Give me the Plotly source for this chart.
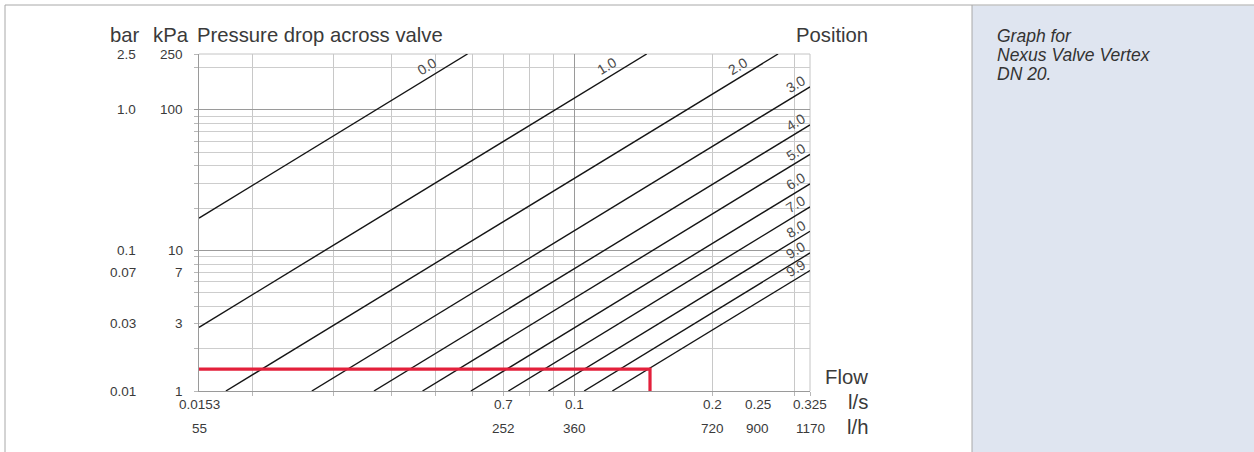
import math
import plotly.graph_objects as go

# ---------------- data ----------------
positions = ["0.0", "1.0", "2.0", "3.0", "4.0", "5.0", "6.0", "7.0", "8.0", "9.0", "9.9"]
flow_start = [0.0153, 0.0153, 0.0175, 0.0269, 0.0367, 0.0468, 0.0596, 0.0719, 0.0878, 0.1050, 0.1209]  # l/s
dp_start = [17.0, 2.84, 1.0, 1.0, 1.0, 1.0, 1.0, 1.0, 1.0, 1.0, 1.0]                                      # kPa
flow_end = [0.0586, 0.1436, 0.2770, 0.325, 0.325, 0.325, 0.325, 0.325, 0.325, 0.325, 0.325]               # l/s
dp_end = [250.0, 250.0, 250.0, 146.0, 78.3, 48.3, 29.8, 20.4, 13.7, 9.6, 7.2]                              # kPa

red_flow = [0.0153, 0.146, 0.146]
red_dp = [1.43, 1.43, 1.0]

ls_ticks = [0.0153, 0.07, 0.1, 0.2, 0.25, 0.325]
ls_text = ["0.0153", "0.7", "0.1", "0.2", "0.25", "0.325"]
lh_text = ["55", "252", "360", "720", "900", "1170"]

kpa_ticks = [250, 100, 10, 7, 3, 1]
kpa_text = ["250", "100", "10", "7", "3", "1"]
bar_text = ["2.5", "1.0", "0.1", "0.07", "0.03", "0.01"]

y_major = [10, 100]
y_minor = [1, 2, 3, 4, 5, 6, 7, 8, 9, 20, 30, 40, 50, 60, 70, 80, 90, 200, 250]
x_major = [0.1]
x_minor = [0.02, 0.03, 0.04, 0.05, 0.06, 0.07, 0.08, 0.09, 0.2, 0.3, 0.325]

panel_lines = ["Graph for", "Nexus Valve Vertex", "DN 20."]

# ---------------- layout geometry ----------------
W, H = 1254, 452
PL, PR, PT, PB = 199, 810, 54, 391  # plot area in px


def px(xp):
    return (xp - PL) / (PR - PL)


def py(yp):
    return (PB - yp) / (PB - PT)


FONT = "Liberation Sans, Arial, sans-serif"
TXT = "#3a3a3a"

fig = go.Figure()

for i, name in enumerate(positions):
    fig.add_trace(go.Scatter(
        x=[flow_start[i], flow_end[i]], y=[dp_start[i], dp_end[i]],
        mode="lines", line=dict(color="#151515", width=1.4),
        name=name, showlegend=False, hoverinfo="skip"))

fig.add_trace(go.Scatter(
    x=red_flow, y=red_dp, mode="lines",
    line=dict(color="#e3203b", width=3.2), showlegend=False, hoverinfo="skip"))

ann = []
# position labels along lines
for i, name in enumerate(positions):
    top = dp_end[i] >= 250
    ann.append(dict(
        x=math.log10(flow_end[i]), y=math.log10(dp_end[i]), xref="x", yref="y",
        text=name, showarrow=False, textangle=-31.4,
        xanchor="center", yanchor="middle",
        xshift=-40 if top else -14, yshift=-12 if top else 2.5,
        font=dict(family=FONT, size=14, color="#4a4a4a")))

# y tick labels (bar and kPa columns)
for v, tb, tk in zip(kpa_ticks, bar_text, kpa_text):
    ann.append(dict(x=px(138), y=math.log10(v), xref="paper", yref="y", text=tb,
                    showarrow=False, xanchor="right", yanchor="middle",
                    font=dict(family=FONT, size=13.5, color=TXT)))
    ann.append(dict(x=px(185), y=math.log10(v), xref="paper", yref="y", text=tk,
                    showarrow=False, xanchor="right", yanchor="middle",
                    font=dict(family=FONT, size=13.5, color=TXT)))

# x tick labels (l/s and l/h rows)
for v, ts, th in zip(ls_ticks, ls_text, lh_text):
    ann.append(dict(x=math.log10(v), y=py(404), xref="x", yref="paper", text=ts,
                    showarrow=False, xanchor="center", yanchor="middle",
                    font=dict(family=FONT, size=13.5, color=TXT)))
    ann.append(dict(x=math.log10(v), y=py(429), xref="x", yref="paper", text=th,
                    showarrow=False, xanchor="center", yanchor="middle",
                    font=dict(family=FONT, size=13.5, color=TXT)))


# headers
def label(text, xp, yp, anchor, size=20.3):
    ann.append(dict(x=px(xp), y=py(yp), xref="paper", yref="paper", text=text,
                    showarrow=False, xanchor=anchor, yanchor="middle",
                    font=dict(family=FONT, size=size, color=TXT)))


label("bar", 108, 35, "left")
label("kPa", 151, 35, "left")
label("Pressure drop across valve", 195, 35, "left")
label("Position", 870, 35, "right")
label("Flow", 870, 377, "right")
label("l/s", 870, 402, "right")
label("l/h", 870, 427, "right")

# side panel text
for k, t in enumerate(panel_lines):
    ann.append(dict(x=px(995), y=py(36 + 19 * k), xref="paper", yref="paper",
                    text="<i>" + t + "</i>", showarrow=False, xanchor="left", yanchor="middle",
                    font=dict(family=FONT, size=17.5, color="#333333")))

shapes = [
    # side panel
    dict(type="rect", xref="paper", yref="paper", x0=px(972), x1=px(1260), y0=py(5.5), y1=py(460),
         fillcolor="#dfe5f0", line=dict(width=0), layer="below"),
    dict(type="line", xref="paper", yref="paper", x0=px(972), x1=px(972), y0=py(5), y1=py(460),
         line=dict(color="#a8a8a8", width=1)),
    # outer frame
    dict(type="line", xref="paper", yref="paper", x0=px(5), x1=px(1260), y0=py(5), y1=py(5),
         line=dict(color="#a8a8a8", width=1)),
    dict(type="line", xref="paper", yref="paper", x0=px(5), x1=px(5), y0=py(5), y1=py(460),
         line=dict(color="#a8a8a8", width=1)),
    # plot top / right borders
    dict(type="line", xref="paper", yref="paper", x0=0, x1=1, y0=1, y1=1,
         line=dict(color="#c4c4c4", width=1), layer="below"),
    dict(type="line", xref="paper", yref="paper", x0=1, x1=1, y0=0, y1=1,
         line=dict(color="#c4c4c4", width=1), layer="below"),
]

fig.update_layout(
    width=W, height=H, autosize=False,
    margin=dict(l=PL, r=W - PR, t=PT, b=H - PB, pad=0),
    paper_bgcolor="white", plot_bgcolor="white",
    showlegend=False, annotations=ann, shapes=shapes,
    font=dict(family=FONT, color=TXT),
)

fig.update_xaxes(
    type="log", range=[math.log10(0.0153), math.log10(0.325)],
    tickmode="array", tickvals=x_major, showticklabels=False,
    ticks="outside", ticklen=4, tickcolor="#9a9a9a", tickwidth=1,
    showgrid=True, gridcolor="#9a9a9a", gridwidth=1,
    minor=dict(tickmode="array", tickvals=x_minor, ticks="outside", ticklen=4,
               tickcolor="#b8b8b8", showgrid=True, gridcolor="#c8c8c8", gridwidth=1),
    showline=True, linecolor="#9a9a9a", linewidth=1, zeroline=False, fixedrange=True,
)
fig.update_yaxes(
    type="log", range=[0, math.log10(250)],
    tickmode="array", tickvals=y_major, showticklabels=False,
    ticks="outside", ticklen=4, tickcolor="#9a9a9a", tickwidth=1,
    showgrid=True, gridcolor="#9a9a9a", gridwidth=1,
    minor=dict(tickmode="array", tickvals=y_minor, ticks="outside", ticklen=4,
               tickcolor="#b8b8b8", showgrid=True, gridcolor="#cdcdcd", gridwidth=1),
    showline=True, linecolor="#9a9a9a", linewidth=1, zeroline=False, fixedrange=True,
)

fig.write_html("out.html", config={"displayModeBar": False},
               post_script="document.body.style.margin='0';")
